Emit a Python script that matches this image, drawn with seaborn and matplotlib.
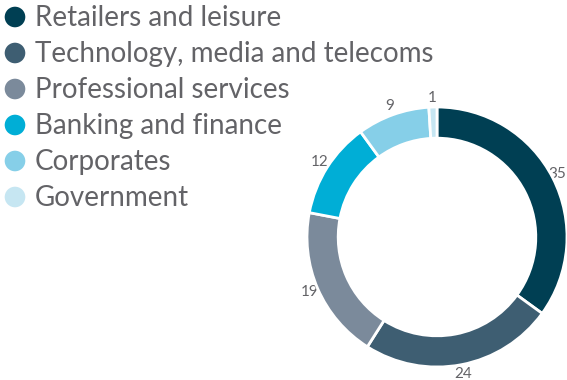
import matplotlib
matplotlib.use("Agg")
import matplotlib.pyplot as plt
import numpy as np
import seaborn as sns

sectors = ["Retailers and leisure", "Technology, media and telecoms",
           "Professional services", "Banking and finance",
           "Corporates", "Government"]
shares = [35, 24, 19, 12, 9, 1]
colors = ["#003f53", "#3e5e72", "#7b8a9b", "#00aed6", "#86cfe8", "#c6e6f2"]

sns.set_theme(style="white")
plt.rcParams["font.family"] = ["Lato", "DejaVu Sans"]
text_color = "#636367"

W, H = 567, 380
fig = plt.figure(figsize=(W / 100, H / 100), dpi=100)

# overlay in pixel units for the legend and the value labels
lax = fig.add_axes([0, 0, 1, 1])
lax.set_xlim(0, W)
lax.set_ylim(H, 0)
lax.axis("off")
row0, step = 17, 36
ys = [row0 + i * step for i in range(len(sectors))]
sns.scatterplot(x=[15] * len(sectors), y=ys, hue=sectors, palette=colors,
                s=220, edgecolor="none", legend=False, ax=lax)
for y, name in zip(ys, sectors):
    lax.text(35, y + 1, name, ha="left", va="center", fontsize=20,
             color=text_color)

# donut
cx, cy, r = 437, 237, 130
ax = fig.add_axes([(cx - r) / W, 1 - (cy + r) / H, 2 * r / W, 2 * r / H])
ax.pie(shares, colors=colors, startangle=90, counterclock=False, radius=1.0,
       wedgeprops=dict(width=0.24, edgecolor="white", linewidth=2))
ax.set_xlim(-1, 1)
ax.set_ylim(-1, 1)
ax.set_aspect("equal")
ax.axis("off")

# value labels just outside the ring, kept inside the canvas
total = sum(shares)
cum = np.cumsum([0] + shares[:-1])
for start, v in zip(cum, shares):
    ang = np.deg2rad(360 * (start + v / 2) / total)
    lx = cx + 1.07 * r * np.sin(ang)
    ly = cy - 1.07 * r * np.cos(ang)
    lx = min(lx, W - 10)
    lax.text(lx, ly, str(v), ha="center", va="center", fontsize=11,
             color=text_color)

fig.savefig("out.png", dpi=100)
